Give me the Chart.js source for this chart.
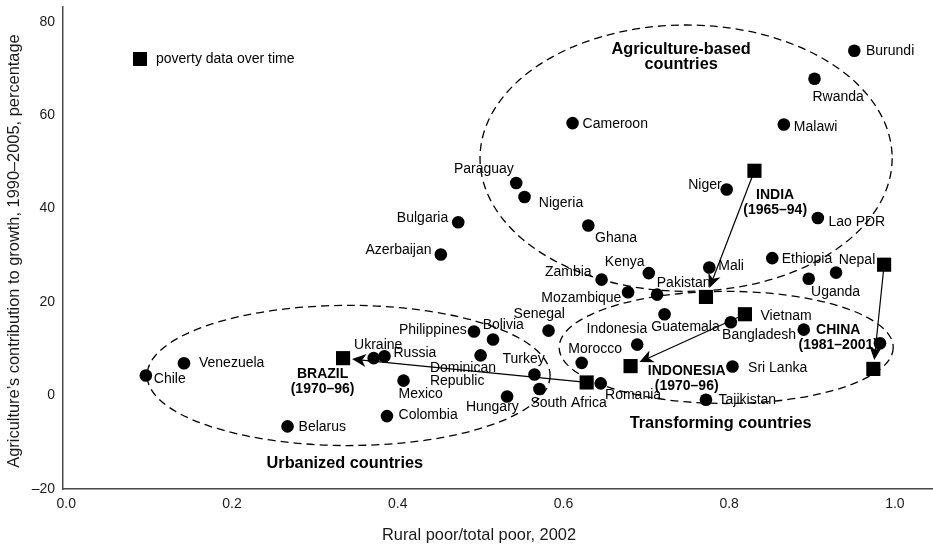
<!DOCTYPE html>
<html>
<head>
<meta charset="utf-8">
<script src="https://cdn.jsdelivr.net/npm/chart.js@4/dist/chart.umd.min.js"></script>
<style>
html,body{margin:0;padding:0;background:#fff;}
#wrap{width:933px;height:544px;position:relative;}
</style>
</head>
<body>
<div id="wrap"><canvas id="c" width="933" height="544"></canvas></div>
<script>
// ---------- data ----------
const countries = ['Chile','Venezuela','Belarus','Ukraine','Russia','Mexico','Colombia','Philippines','Bolivia','Dominican\nRepublic','Turkey','South Africa','Hungary','Senegal','Morocco','Romania','Indonesia','Guatemala','Mozambique','Pakistan','Zambia','Kenya','Mali','Tajikistan','Sri Lanka','Vietnam','Bangladesh','','Uganda','Nepal','Ethiopia','Lao PDR','Niger','Malawi','Rwanda','Burundi','Cameroon','Paraguay','Nigeria','Ghana','Bulgaria','Azerbaijan'];
const ruralPoorShare = [0.096,0.142,0.267,0.371,0.384,0.407,0.387,0.492,0.515,0.500,0.565,0.571,0.532,0.582,0.622,0.645,0.689,0.722,0.678,0.713,0.646,0.703,0.776,0.772,0.804,0.802,0.890,0.982,0.896,0.929,0.852,0.907,0.797,0.866,0.903,0.951,0.611,0.543,0.553,0.630,0.473,0.452];
const agriContribution = [4.3,6.9,-6.6,8.0,8.4,3.2,-4.4,13.7,12.0,8.6,4.5,1.4,-0.2,13.9,7.0,2.6,10.9,17.4,22.1,21.6,24.8,26.2,27.4,-0.9,6.2,15.7,14.1,11.2,25.0,26.3,29.4,38.0,44.1,58.0,67.8,73.8,58.3,45.5,42.5,36.4,37.1,30.2];

// poverty data over time (start -> end)
const povertyCases = ['BRAZIL','INDIA','INDONESIA','CHINA'];
const povertyPeriods = ['(1970–96)','(1965–94)','(1970–96)','(1981–2001)'];
const povertyStartX = [0.628,0.8305,0.819,0.987];
const povertyStartY = [2.8,48.1,17.4,28.0];
const povertyEndX = [0.334,0.772,0.681,0.974];
const povertyEndY = [8.0,21.1,6.3,5.7];

// group ellipses: [centerX, centerY, radiusX, radiusY] in data units
const groupNames = ['Agriculture-based\ncountries','Urbanized countries','Transforming countries'];
const groupEllipses = [[0.748,50.8,0.2487,28.5],[0.3407,4.3,0.2432,15.0],[0.7964,10.3,0.2016,12.0]];
const groupLabelAt = [[0.742,74.1],[0.3361,-14.6],[0.7897,-5.9]];
const caseLabelAt = [[0.3093,4.5],[0.8555,42.9],[0.7487,5.2],[0.9316,13.9]];

const xTicks = [0,0.2,0.4,0.6,0.8,1.0];
const yTicks = [-20,0,20,40,60,80];

const xTitle = 'Rural poor/total poor, 2002';
const yTitle = 'Agriculture\u2019s contribution to growth, 1990–2005, percentage';
const legendText = 'poverty data over time';

// label placement (pixel offsets from the point)
const labelOffsets = [[8,4,'left'],[15,0,'left'],[11,1,'left'],[4.5,-12.7,'center'],[9,-3.4,'left'],[-5,14,'left'],[11.6,-0.7,'left'],[-7.3,-1.7,'right'],[-10.4,-14,'left'],[-50.7,12.7,'left'],[-32,-15.7,'left'],[-9,14.4,'left'],[11.7,11,'right'],[-35,-16,'left'],[-13.4,-13.3,'left'],[4.3,11.3,'left'],[-50.7,-15.3,'left'],[-13.3,13.3,'left'],[-6.7,6,'right'],[-0.3,-11.7,'left'],[-10,-7.6,'right'],[-44,-11,'left'],[9,-1,'left'],[12.6,0,'left'],[15.6,1.3,'left'],[29.7,-6,'left'],[-7.7,5.3,'right'],[0,0,'left'],[2.4,13.4,'left'],[2.6,-13,'left'],[9.4,0.6,'left'],[10.6,4,'left'],[-5,-4.7,'right'],[10,2.4,'left'],[-2,18,'left'],[11.7,0,'left'],[10,1.3,'left'],[-2.4,-13.7,'right'],[14.3,6,'left'],[6.7,12.3,'left'],[-10,-4.4,'right'],[-9.3,-4.7,'right']];

const FONT = '"Liberation Sans", Arial, Helvetica, sans-serif';

function drawLines(ctx, text, x, y, lh){
  text.split('\n').forEach((t,i)=>ctx.fillText(t, x, y + i*lh));
}

const overlay = {
  id: 'overlay',
  beforeDatasetsDraw(chart){
    const {ctx, scales:{x, y}} = chart;
    ctx.save();
    // ellipses
    ctx.strokeStyle = '#000';
    ctx.lineWidth = 1.3;
    ctx.setLineDash([8,5]);
    groupEllipses.forEach(e=>{
      const cx = x.getPixelForValue(e[0]), cy = y.getPixelForValue(e[1]);
      const rx = Math.abs(x.getPixelForValue(e[0]+e[2]) - cx);
      const ry = Math.abs(y.getPixelForValue(e[1]+e[3]) - cy);
      ctx.beginPath();
      ctx.ellipse(cx, cy, rx, ry, 0, 0, Math.PI*2);
      ctx.stroke();
    });
    ctx.setLineDash([]);
    // arrows
    ctx.lineWidth = 1.2;
    ctx.fillStyle = '#000';
    povertyCases.forEach((c,i)=>{
      const x0 = x.getPixelForValue(povertyStartX[i]), y0 = y.getPixelForValue(povertyStartY[i]);
      const x1 = x.getPixelForValue(povertyEndX[i]), y1 = y.getPixelForValue(povertyEndY[i]);
      const dx = x1-x0, dy = y1-y0, L = Math.hypot(dx,dy);
      const ux = dx/L, uy = dy/L;
      const gap = 7/Math.max(Math.abs(ux),Math.abs(uy)) + 2;
      const tx = x1 - ux*gap, ty = y1 - uy*gap;
      const hl = 14, hw = 6.5, notch = 10;
      ctx.beginPath();
      ctx.moveTo(x0,y0);
      ctx.lineTo(tx - ux*notch, ty - uy*notch);
      ctx.stroke();
      const px = -uy, py = ux;
      ctx.beginPath();
      ctx.moveTo(tx,ty);
      ctx.lineTo(tx - ux*hl + px*hw, ty - uy*hl + py*hw);
      ctx.lineTo(tx - ux*notch, ty - uy*notch);
      ctx.lineTo(tx - ux*hl - px*hw, ty - uy*hl - py*hw);
      ctx.closePath();
      ctx.fill();
    });
    ctx.restore();
  },
  afterDatasetsDraw(chart){
    const {ctx, scales:{x, y}} = chart;
    ctx.save();
    ctx.fillStyle = '#000';
    ctx.textBaseline = 'middle';
    // country labels
    ctx.font = '14px ' + FONT;
    countries.forEach((name,i)=>{
      if(!name) return;
      const o = labelOffsets[i];
      ctx.textAlign = o[2];
      drawLines(ctx, name, x.getPixelForValue(ruralPoorShare[i]) + o[0], y.getPixelForValue(agriContribution[i]) + o[1], 13.5);
    });
    // case labels
    ctx.font = 'bold 14px ' + FONT;
    ctx.textAlign = 'center';
    povertyCases.forEach((c,i)=>{
      drawLines(ctx, c + '\n' + povertyPeriods[i], x.getPixelForValue(caseLabelAt[i][0]), y.getPixelForValue(caseLabelAt[i][1]), 15);
    });
    // group labels
    ctx.font = 'bold 16.3px ' + FONT;
    groupNames.forEach((g,i)=>{
      drawLines(ctx, g, x.getPixelForValue(groupLabelAt[i][0]), y.getPixelForValue(groupLabelAt[i][1]), 15.7);
    });
    // legend
    ctx.fillRect(133, 52, 14, 14);
    ctx.font = '14px ' + FONT;
    ctx.textAlign = 'left';
    ctx.fillText(legendText, 156, 59.5);
    // axis titles
    ctx.fillStyle = '#1a1a1a';
    ctx.font = '16.4px ' + FONT;
    ctx.textAlign = 'center';
    ctx.fillText(xTitle, 479, 535);
    ctx.translate(14.5, 251);
    ctx.rotate(-Math.PI/2);
    ctx.fillText(yTitle, 0, 0);
    ctx.restore();
  }
};

new Chart(document.getElementById('c'), {
  type: 'scatter',
  data: {
    datasets: [
      {
        label: 'countries',
        data: countries.map((n,i)=>({x: ruralPoorShare[i], y: agriContribution[i]})),
        pointStyle: 'circle',
        pointRadius: 6.3,
        pointBorderWidth: 0,
        backgroundColor: '#000',
        borderColor: '#000'
      },
      {
        label: legendText,
        data: povertyCases.flatMap((c,i)=>[{x: povertyStartX[i], y: povertyStartY[i]},{x: povertyEndX[i], y: povertyEndY[i]}]),
        pointStyle: 'rect',
        pointRadius: 10,
        pointBorderWidth: 0,
        backgroundColor: '#000',
        borderColor: '#000'
      }
    ]
  },
  options: {
    responsive: false,
    animation: false,
    devicePixelRatio: 1,
    events: [],
    layout: {autoPadding: false, padding: {top: 7, left: 0, right: 0, bottom: 0}},
    plugins: {legend: {display: false}, tooltip: {enabled: false}},
    scales: {
      x: {
        type: 'linear',
        min: -0.004, max: 1.046,
        afterBuildTicks: s => { s.ticks = xTicks.map(v=>({value: v})); },
        afterFit: s => { s.height = 55; s.paddingLeft = 0; s.paddingRight = 0; },
        grid: {display: false, drawTicks: false},
        border: {display: true, color: '#4a4a4a', width: 1.5},
        ticks: {padding: 7, color: '#1a1a1a', font: {family: FONT, size: 14}, callback: v => Number(v).toFixed(1)}
      },
      y: {
        type: 'linear',
        min: -20, max: 83.15,
        afterBuildTicks: s => { s.ticks = yTicks.map(v=>({value: v})); },
        afterFit: s => { s.width = 63; s.paddingTop = 0; s.paddingBottom = 0; },
        grid: {display: false, drawTicks: false},
        border: {display: true, color: '#4a4a4a', width: 1.5},
        ticks: {padding: 8, color: '#1a1a1a', font: {family: FONT, size: 14}, callback: v => v < 0 ? '–' + Math.abs(v) : String(v)}
      }
    }
  },
  plugins: [overlay]
});
</script>
</body>
</html>
